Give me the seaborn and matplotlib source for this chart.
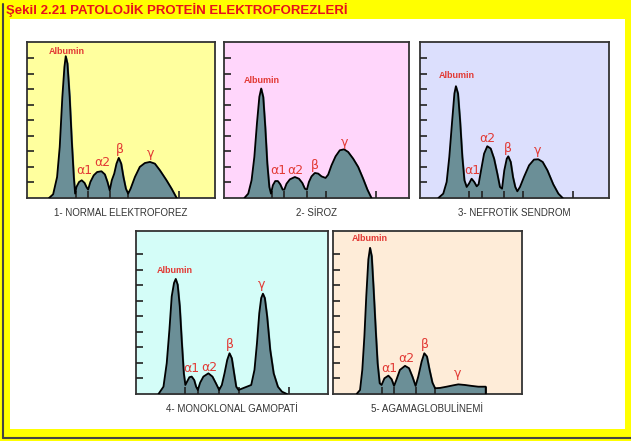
import matplotlib
matplotlib.use("Agg")
import matplotlib.pyplot as plt
import seaborn as sns
from matplotlib.patches import Rectangle
from matplotlib.lines import Line2D

sns.set_style("white")
plt.rcParams['font.family'] = ['Liberation Sans', 'DejaVu Sans']

# --- veriler (x: kutu genisliginin %'si, y: cetvel birimi) ---
normal_x = [11.7, 13.9, 16.0, 17.4, 18.8, 19.9, 20.6, 21.5, 22.7, 23.8, 24.9, 25.6,
            26.3, 27.7, 29.1, 30.6, 31.6, 32.5, 33.7, 35.5, 37.3, 39.6, 41.4, 42.8,
            44.0, 45.1, 46.4, 47.6, 48.8, 50.1, 51.3, 52.6, 53.8, 55.1, 57.4, 60.0,
            62.7, 65.4, 68.0, 70.7, 74.2, 76.9, 79.6]
normal_y = [0, 0.24, 1.35, 3.28, 6.5, 8.43, 9.12, 8.65, 6.5, 3.71, 1.35, 0.28,
            0.71, 1.03, 1.14, 0.97, 0.71, 0.54, 1.03, 1.46, 1.67, 1.72, 1.52, 1.03,
            0.49, 1.14, 1.57, 2.21, 2.58, 2.21, 1.35, 0.6, 0.28, 0.6, 1.35, 2.0,
            2.25, 2.32, 2.21, 1.78, 1.14, 0.6, 0]

siroz_x = [11.0, 13.1, 14.9, 16.4, 17.8, 19.1, 20.1, 21.2, 22.3, 23.4, 24.5, 25.4,
           26.4, 27.7, 29.1, 30.4, 31.7, 32.6, 33.8, 35.6, 38.3, 40.5, 42.3, 43.7,
           44.8, 45.9, 47.3, 49.1, 50.9, 52.7, 54.9, 56.3, 58.1, 60.3, 62.6, 64.9,
           67.1, 69.8, 72.5, 75.2, 77.5, 79.7]
siroz_y = [0, 0.28, 1.14, 2.64, 4.79, 6.5, 7.04, 6.5, 4.57, 2.21, 0.71, 0.28,
           0.82, 1.09, 1.09, 0.88, 0.54, 0.54, 0.92, 1.2, 1.35, 1.24, 0.97, 0.6,
           0.54, 1.03, 1.39, 1.61, 1.57, 1.39, 1.29, 1.5, 2.1, 2.68, 3.07, 3.13,
           2.96, 2.53, 2.0, 1.24, 0.54, 0]

nefrotik_x = [9.7, 12.3, 14.1, 15.5, 16.9, 18.2, 19.0, 20.1, 21.2, 22.4, 23.5, 24.7,
              25.9, 27.3, 28.7, 30.0, 31.0, 32.3, 33.9, 35.6, 37.4, 39.2, 40.9, 42.3,
              43.4, 44.6, 45.9, 46.7, 48.0, 49.2, 50.4, 51.5, 52.9, 55.0, 57.7, 60.3,
              62.6, 64.9, 67.4, 70.5, 73.2, 75.5]
nefrotik_y = [0, 0.28, 1.03, 2.64, 4.79, 6.72, 7.19, 6.72, 5.0, 2.64, 1.14, 0.71,
              0.92, 1.24, 1.03, 0.75, 0.88, 1.78, 2.85, 3.33, 3.18, 2.53, 1.57, 0.71,
              0.6, 1.78, 2.53, 2.68, 2.32, 1.35, 0.71, 0.43, 0.71, 1.35, 2.1, 2.47,
              2.49, 2.32, 1.78, 0.88, 0.28, 0]

monoklonal_x = [11.7, 14.3, 16.0, 17.4, 18.6, 19.8, 20.7, 21.7, 22.8, 23.8, 24.9, 25.7,
                26.6, 27.8, 29.0, 30.3, 31.3, 32.2, 33.4, 35.1, 37.7, 39.8, 41.6, 43.3,
                44.7, 46.1, 47.5, 48.7, 49.9, 51.1, 52.2, 53.4, 56.9, 60.0, 61.7, 63.0,
                64.2, 65.2, 66.1, 67.1, 68.3, 69.9, 71.7, 73.9, 76.0, 78.6]
monoklonal_y = [0, 0.47, 1.98, 4.13, 6.28, 7.14, 7.4, 7.03, 5.63, 3.48, 1.33, 0.58,
                0.8, 1.08, 1.12, 0.9, 0.47, 0.26, 0.73, 1.12, 1.33, 1.12, 0.69, 0.26,
                0.58, 1.33, 2.19, 2.62, 2.3, 1.33, 0.47, 0.26, 0.43, 0.58, 1.55, 3.27,
                5.2, 6.17, 6.45, 6.17, 4.99, 2.84, 1.33, 0.47, 0.15, 0]

agama_x = [12.5, 14.3, 15.5, 16.6, 17.6, 18.7, 19.6, 20.5, 21.5, 22.6, 23.6, 24.7,
           25.7, 27.2, 29.3, 31.0, 32.3, 33.5, 35.4, 38.1, 40.2, 42.0, 43.7, 45.1,
           46.9, 48.3, 49.7, 51.1, 52.6, 54.0, 56.6, 60.1, 63.7, 66.3, 69.8, 73.4,
           76.9, 80.8, 80.8]
agama_y = [0, 0.26, 1.55, 3.7, 6.28, 8.65, 9.4, 8.86, 6.71, 4.13, 1.98, 0.69,
           0.58, 1.01, 1.18, 0.95, 0.52, 0.9, 1.55, 1.81, 1.66, 1.12, 0.52, 1.12,
           2.09, 2.62, 2.41, 1.55, 0.73, 0.37, 0.39, 0.47, 0.56, 0.62, 0.58, 0.52,
           0.47, 0.47, 0]

# fraksiyon sinirlari (alt cetvel)
normal_ticks = [25.8, 32.5, 44.0, 53.8, 80.8]
siroz_ticks = [26.1, 32.6, 44.6, 54.9, 82.0]
nefrotik_ticks = [26.1, 32.6, 44.4, 54.3, 81.1]
monoklonal_ticks = [25.7, 32.2, 43.3, 53.4, 79.5]
agama_ticks = [25.7, 32.3, 43.7, 54.0, 80.8]

fractions = ['Albumin', 'α1', 'α2', 'β', 'γ']
normal_lbl = [(21.1, 9.45), (30.7, 1.8), (40.1, 2.3), (49.4, 3.1), (65.6, 2.83)]
siroz_lbl = [(20.3, 7.53), (29.3, 1.78), (38.3, 1.74), (49.1, 2.1), (65.3, 3.6)]
nefrotik_lbl = [(19.4, 7.9), (27.9, 1.78), (35.6, 3.82), (46.4, 3.18), (62.3, 3.03)]
monoklonal_lbl = [(20.3, 7.96), (28.7, 1.66), (38.1, 1.72), (49.0, 3.16), (65.6, 7.03)]
agama_lbl = [(19.6, 9.98), (29.6, 1.66), (39.0, 2.3), (48.7, 3.16), (66.0, 1.29)]

titles = ['1- NORMAL ELEKTROFOREZ', '2- SİROZ', '3- NEFROTİK SENDROM',
          '4- MONOKLONAL GAMOPATİ', '5- AGAMAGLOBULİNEMİ']
bg_colors = ['#ffff9e', '#ffd6fb', '#dcdffd', '#d4fdf8', '#feecd8']

# kutu konumlari (piksel: sol, ust, genislik, yukseklik)
boxes = [(27, 42, 188, 156), (224, 42, 185, 156), (420, 42, 189, 156),
         (136, 231, 192, 163), (333, 231, 189, 163)]

W, H = 631, 441
fig = plt.figure(figsize=(W / 100, H / 100), dpi=100, facecolor='#ffff00')

# beyaz zemin ve golge cizgileri
fig.patches.append(Rectangle((10 / W, 1 - 429 / H), 615 / W, 410 / H,
                             transform=fig.transFigure, facecolor='white',
                             edgecolor='none', zorder=-5))
fig.add_artist(Line2D([3 / W, 3 / W], [1 - 4 / H, 1 - 438 / H], color='#444444', lw=1.5))
fig.add_artist(Line2D([3 / W, 1], [1 - 438 / H, 1 - 438 / H], color='#444444', lw=1.5))

fig.text(6 / W, 1 - 9.5 / H, 'Şekil 2.21 PATOLOJİK PROTEİN ELEKTROFOREZLERİ',
         color='#e8101c', fontsize=9.5, fontweight='bold', va='center', ha='left')

panels = [(normal_x, normal_y, normal_ticks, normal_lbl),
          (siroz_x, siroz_y, siroz_ticks, siroz_lbl),
          (nefrotik_x, nefrotik_y, nefrotik_ticks, nefrotik_lbl),
          (monoklonal_x, monoklonal_y, monoklonal_ticks, monoklonal_lbl),
          (agama_x, agama_y, agama_ticks, agama_lbl)]

fill_col = '#6b8f97'
red = '#e23a35'

for i, (xs, ys, ticks, lbls) in enumerate(panels):
    l, t, w, h = boxes[i]
    ax = fig.add_axes([l / W, 1 - (t + h) / H, w / W, h / H], zorder=2)
    ax.set_facecolor(bg_colors[i])
    ax.fill_between(xs, ys, 0, color=fill_col, zorder=2)
    sns.lineplot(x=xs, y=ys, ax=ax, color='black', lw=1.3, sort=False,
                 estimator=None, zorder=3)
    ax.set_axisbelow(False)
    ax.set_xlim(0, 100)
    ax.set_ylim(0, h / 15.55)
    ax.set_yticks(range(1, 10))
    ax.set_xticks(ticks)
    ax.tick_params(axis='both', direction='in', length=5, width=1.2,
                   colors='#222222', left=True, bottom=True,
                   labelleft=False, labelbottom=False)
    ax.set_xlabel('')
    ax.set_ylabel('')
    for s in ax.spines.values():
        s.set_color('#333333')
        s.set_linewidth(1.3)
        s.set_visible(True)
    for name, (lx, ly) in zip(fractions, lbls):
        if name == 'Albumin':
            ax.text(lx, ly, name, color=red, fontsize=6.5, fontweight='bold',
                    ha='center', va='center', zorder=4)
        else:
            ax.text(lx, ly, name, color=red, fontsize=9, family=['DejaVu Sans'],
                    ha='center', va='center', zorder=4)
    fig.text((l + w / 2) / W, 1 - (t + h + 15) / H, titles[i], color='#333333',
             fontsize=7, ha='center', va='center')

plt.savefig('out.png', dpi=100, facecolor=fig.get_facecolor())
